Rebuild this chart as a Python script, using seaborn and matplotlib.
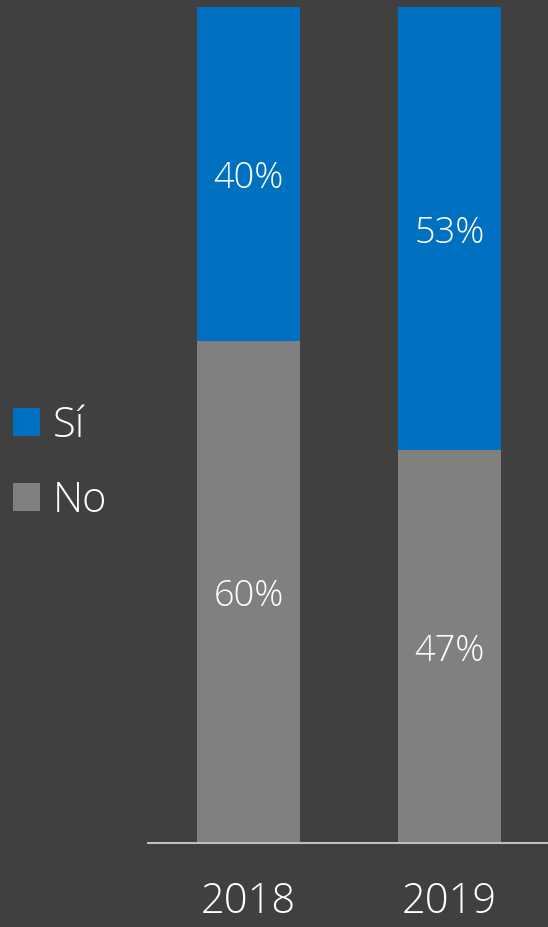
import matplotlib
matplotlib.use("Agg")
import matplotlib.pyplot as plt
import seaborn as sns
import pandas as pd
from matplotlib.patches import Patch

years = ["2018", "2019"]
si_vals = [40, 53]
no_vals = [60, 47]
series_names = ["Sí", "No"]

BG = "#404040"
BLUE = "#0070C0"
GRAY = "#808080"

sns.set_theme(style="white")
plt.rcParams['font.family'] = ['Open Sans', 'DejaVu Sans']
plt.rcParams['font.weight'] = 'light'

fig = plt.figure(figsize=(5.48, 9.27), dpi=100, facecolor=BG)
ax = fig.add_axes([148/548, 1 - 843/927, 400/548, (843 - 7)/927])
ax.set_facecolor(BG)

df = pd.DataFrame({"year": years, "si": si_vals, "no": no_vals})
df["total"] = df["si"] + df["no"]

sns.barplot(data=df, x="year", y="total", color=BLUE, width=0.51, ax=ax,
            saturation=1, edgecolor="none")
sns.barplot(data=df, x="year", y="no", color=GRAY, width=0.51, ax=ax,
            saturation=1, edgecolor="none")

ax.set_xlim(-0.5, 1.49)
ax.set_ylim(0, 100)

for i, (s, n) in enumerate(zip(si_vals, no_vals)):
    ax.text(i, n / 2, f"{n}%", ha="center", va="center_baseline", color="white",
            fontsize=26, fontweight="light")
    ax.text(i, n + s / 2, f"{s}%", ha="center", va="center_baseline", color="white",
            fontsize=26, fontweight="light")

for sp in ["top", "right", "left"]:
    ax.spines[sp].set_visible(False)
ax.spines["bottom"].set_color("#BFBFBF")
ax.spines["bottom"].set_linewidth(1.5)
ax.set_yticks([])
ax.set_xlabel("")
ax.set_ylabel("")
ax.tick_params(axis="x", length=0, pad=27, labelsize=30, colors="white")
for lbl in ax.get_xticklabels():
    lbl.set_fontweight("light")

handles = [Patch(facecolor=BLUE, edgecolor="none"), Patch(facecolor=GRAY, edgecolor="none")]
leg = fig.legend(handles, series_names, loc="center left",
                 bbox_to_anchor=(13/548, 1 - 463/927), frameon=False,
                 borderpad=0, borderaxespad=0,
                 handlelength=0.65, handleheight=0.65, handletextpad=0.3,
                 labelspacing=0.78, prop={"size": 30, "weight": "light"})
for t in leg.get_texts():
    t.set_color("white")

fig.savefig("out.png", dpi=100, facecolor=BG)
